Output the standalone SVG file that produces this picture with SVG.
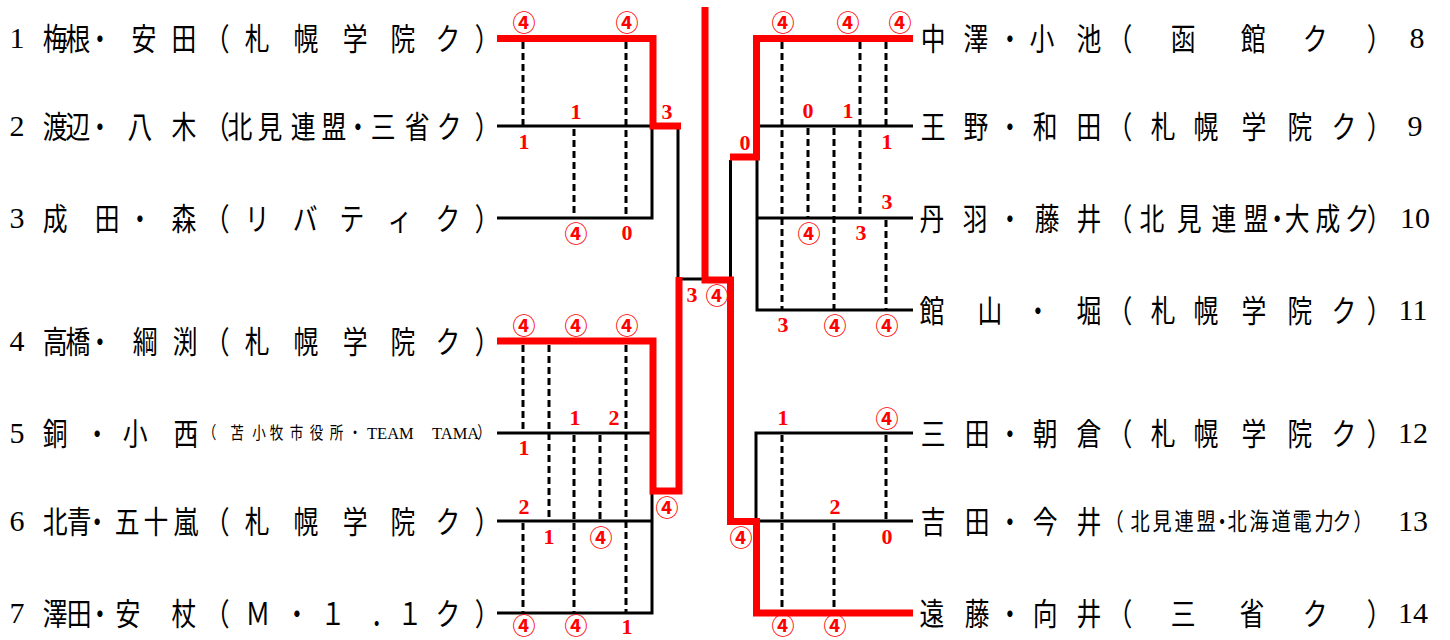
<svg xmlns="http://www.w3.org/2000/svg" width="1450" height="640" viewBox="0 0 1450 640">
<style>
.bk{stroke:#000;stroke-width:3;fill:none}
.rd{stroke:#ff0000;stroke-width:7;fill:none}
.ds{stroke:#000;stroke-width:3;stroke-dasharray:7 4;fill:none}
.nm{font-family:"Noto Sans CJK JP",sans-serif;font-size:31px;text-anchor:middle;fill:#000}
.sm{font-size:17px}
.md{font-size:24px}
.lat{font-family:"Liberation Serif",serif;font-size:16.5px;fill:#000}
.num{font-family:"Liberation Serif",serif;font-size:30px;text-anchor:middle;fill:#000}
.sc{font-family:"Liberation Serif",serif;font-weight:bold;font-size:22px;fill:#ff0000;text-anchor:middle}
.c4{font-family:"Noto Sans CJK JP",sans-serif;font-weight:bold;font-size:23px;fill:#ff0000;text-anchor:middle}
</style>
<rect width="1450" height="640" fill="#fff"/>

<g id="connectors">
  <!-- black bracket lines -->
  <path class="bk" d="M497,126 H652 V218 H497"/>
  <path class="bk" d="M678,129 V279 H705"/>
  <path class="bk" d="M730.5,160 V279"/>
  <path class="bk" d="M913,126 H757 V310 H913 M757,218 H913"/>
  <path class="bk" d="M913,433 H756 V521 H913"/>
  <path class="bk" d="M497,433 H650 M497,521 H652 M652,494 V613 H497"/>
  <!-- dashed score lines -->
  <path class="ds" d="M523,42 V126 M626,42 V218 M574,129 V218"/>
  <path class="ds" d="M523,345 V433 M523,523 V613 M549,345 V521 M574,435 V613 M600,435 V521 M626,345 V613"/>
  <path class="ds" d="M782,42 V310 M808,128 V218 M834,128 V310 M860,42 V218 M886,42 V126 M886,220 V310"/>
  <path class="ds" d="M782,435 V609 M834,523 V609 M886,435 V521"/>
  <!-- red winner paths -->
  <path class="rd" d="M497,38.5 H653 V126 H681"/>
  <path class="rd" d="M497,341 H653 V491 H679 V277"/>
  <path class="rd" d="M705,7 V280 H730.5 V521.5 H756.5 V613 H913"/>
  <path class="rd" d="M730,157 H756.5 V38.5 H913"/>
</g>

<g id="p1">
  <text class="num" x="17" y="48">1</text>
  <text class="nm" transform="scale(0.8 1)" y="50" x="68.8 97.5 125 180 230 271.3 321.3 382.5 443.8 503.8 560 608.8">梅根・安田（札幌学院ク）</text>
</g>
<g id="p2">
  <text class="num" x="17" y="136">2</text>
  <text class="nm" transform="scale(0.8 1)" y="138" x="68.8 97.5 125 175 230 271.3 300 337.5 378.8 417.5 447.5 478.8 521.3 561.3 608.8">渡辺・八木（北見連盟・三省ク）</text>
</g>
<g id="p3">
  <text class="num" x="17" y="228">3</text>
  <text class="nm" transform="scale(0.8 1)" y="230" x="68.8 133.8 175 230 271.3 321.3 381.3 440 500 560 608.8">成田・森（リバティク）</text>
</g>
<g id="p4">
  <text class="num" x="17" y="351">4</text>
  <text class="nm" transform="scale(0.8 1)" y="353" x="68.8 97.5 125 181.3 231.3 271.3 321.3 382.5 443.8 503.8 560 608.8">高橋・綱渕（札幌学院ク）</text>
</g>
<g id="p5">
  <text class="num" x="17" y="443">5</text>
  <text class="nm" transform="scale(0.8 1)" y="445" x="68.8 121.3 168.8 232.5">銅・小西</text>
  <text class="nm sm" transform="scale(0.8 1)" y="439.5" x="261.9 296.3 323.8 345.6 370.6 395.6 420.6 443.8">（苫小牧市役所・</text>
  <text class="lat" x="367" y="439">TEAM</text>
  <text class="lat" x="432" y="439">TAMA</text>
  <text class="nm sm" transform="scale(0.8 1)" y="439.5" x="605">）</text>
</g>
<g id="p6">
  <text class="num" x="17" y="531">6</text>
  <text class="nm" transform="scale(0.8 1)" y="533" x="68.8 98.8 121.3 158.8 195 232.5 271.3 321.3 382.5 443.8 503.8 560 608.8">北青・五十嵐（札幌学院ク）</text>
</g>
<g id="p7">
  <text class="num" x="17" y="623">7</text>
  <text class="nm" transform="scale(0.8 1)" y="625" x="68.8 98.8 125 160 230 271.3 322.5 371.3 416.3 478.8 512.5 560 608.8">澤田・安杖（Ｍ・１．１ク）</text>
</g>

<g id="p8">
  <text class="nm" transform="scale(0.8 1)" y="50" x="1166.3 1220 1262.5 1302.5 1361.3 1400 1478.8 1566.3 1643.8 1723.8">中澤・小池（函館ク）</text>
  <text class="num" x="1417" y="48">8</text>
</g>
<g id="p9">
  <text class="nm" transform="scale(0.8 1)" y="138" x="1166.3 1220 1262.5 1306.3 1361.3 1400 1453.8 1507.5 1567.5 1625 1680 1723.8">王野・和田（札幌学院ク）</text>
  <text class="num" x="1415" y="136">9</text>
</g>
<g id="p10">
  <text class="nm" transform="scale(0.8 1)" y="230" x="1165 1218.8 1262.5 1308.8 1361.3 1400 1440 1486.3 1530 1570 1596.3 1621.3 1660 1696.3 1723.8">丹羽・藤井（北見連盟・大成ク）</text>
  <text class="num" x="1415" y="228">10</text>
</g>
<g id="p11">
  <text class="nm" transform="scale(0.8 1)" y="322" x="1165 1237.5 1297.5 1361.3 1400 1453.8 1507.5 1567.5 1625 1680 1723.8">館山・堀（札幌学院ク）</text>
  <text class="num" x="1413" y="320">11</text>
</g>
<g id="p12">
  <text class="nm" transform="scale(0.8 1)" y="445" x="1166.3 1221.3 1262.5 1306.3 1361.3 1400 1453.8 1507.5 1567.5 1625 1680 1723.8">三田・朝倉（札幌学院ク）</text>
  <text class="num" x="1413" y="443">12</text>
</g>
<g id="p13">
  <text class="nm" transform="scale(0.8 1)" y="533" x="1166.3 1221.3 1262.5 1306.3 1361.3">吉田・今井</text>
  <text class="nm md" transform="scale(0.8 1)" y="530" x="1392.5 1425 1452.5 1480 1507.5 1527.5 1546.3 1573.8 1601.3 1627.5 1655 1677.5 1703.8">（北見連盟・北海道電力ク）</text>
  <text class="num" x="1413" y="531">13</text>
</g>
<g id="p14">
  <text class="nm" transform="scale(0.8 1)" y="625" x="1165 1221.3 1262.5 1306.3 1361.3 1400 1478.8 1565 1643.8 1723.8">遠藤・向井（三省ク）</text>
  <text class="num" x="1413" y="623">14</text>
</g>

<g id="scores">
  <text class="c4" x="524" y="31">④</text>
  <text class="c4" x="627" y="31">④</text>
  <text class="sc" x="576" y="119">1</text>
  <text class="sc" x="524" y="149">1</text>
  <text class="sc" x="667" y="119">3</text>
  <text class="c4" x="576" y="242">④</text>
  <text class="sc" x="627" y="240">0</text>

  <text class="sc" x="692" y="302">3</text>
  <text class="c4" x="717" y="304">④</text>

  <text class="c4" x="783" y="31">④</text>
  <text class="c4" x="848" y="31">④</text>
  <text class="c4" x="900" y="31">④</text>
  <text class="sc" x="808" y="118">0</text>
  <text class="sc" x="848" y="118">1</text>
  <text class="sc" x="745" y="150">0</text>
  <text class="sc" x="887" y="149">1</text>
  <text class="sc" x="887" y="209">3</text>
  <text class="c4" x="809" y="242">④</text>
  <text class="sc" x="861" y="240">3</text>
  <text class="sc" x="783" y="332">3</text>
  <text class="c4" x="835" y="334">④</text>
  <text class="c4" x="887" y="334">④</text>

  <text class="c4" x="524" y="334">④</text>
  <text class="c4" x="576" y="334">④</text>
  <text class="c4" x="627" y="334">④</text>
  <text class="sc" x="575" y="425">1</text>
  <text class="sc" x="614" y="425">2</text>
  <text class="sc" x="524" y="455">1</text>
  <text class="sc" x="524" y="514">2</text>
  <text class="sc" x="549" y="544">1</text>
  <text class="c4" x="601" y="546">④</text>
  <text class="c4" x="667" y="516">④</text>
  <text class="c4" x="524" y="634">④</text>
  <text class="c4" x="576" y="634">④</text>
  <text class="sc" x="627" y="634">1</text>

  <text class="sc" x="783" y="425">1</text>
  <text class="c4" x="887" y="427">④</text>
  <text class="sc" x="835" y="514">2</text>
  <text class="sc" x="887" y="544">0</text>
  <text class="c4" x="741" y="546">④</text>
  <text class="c4" x="783" y="634">④</text>
  <text class="c4" x="835" y="634">④</text>
</g>
</svg>
